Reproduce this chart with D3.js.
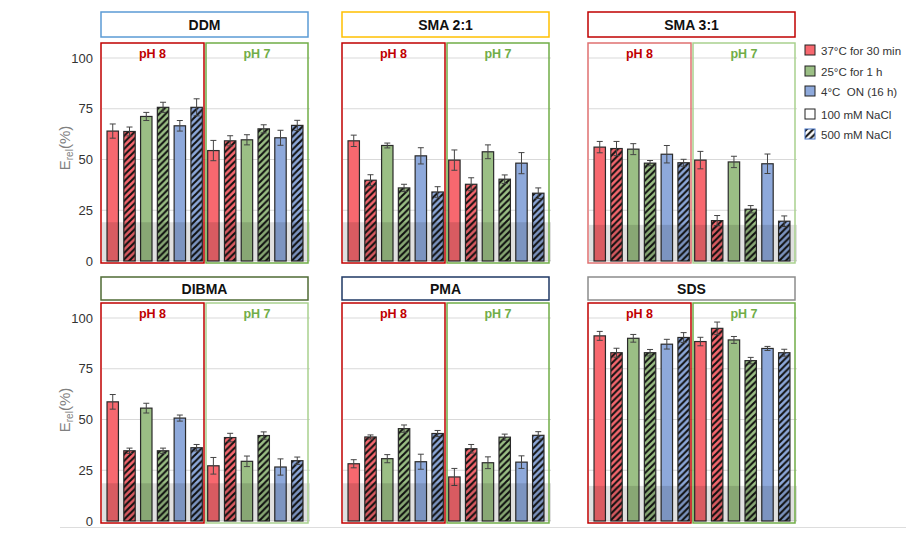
<!DOCTYPE html>
<html><head><meta charset="utf-8">
<script src="https://cdn.jsdelivr.net/npm/d3@7"></script>
<style>
body{margin:0;background:#fff;}
text{font-family:"Liberation Sans",Arial,sans-serif;white-space:pre;}
</style></head>
<body><svg id="c" width="906" height="533"></svg>
<script>
// ---------- data ----------
const panelNames = ["DDM","SMA 2:1","SMA 3:1","DIBMA","PMA","SDS"];
const phGroups = ["pH 8","pH 7"];
const conditions = ["37°C for 30 min","25°C for 1 h","4°C  ON (16 h)"];
const salts = ["100 mM NaCl","500 mM NaCl"];
const yTicks = [0,25,50,75,100];

// values: pH 8 (6 bars) then pH 7 (6 bars)
const ddmValues   = [64.0,63.8,71.2,75.7,66.6,75.7, 54.4,59.2,59.7,65.1,60.7,66.8];
const ddmErrors   = [3.5,2.2,2.0,2.5,2.6,4.2, 5.0,2.5,2.5,2.0,3.7,2.5];
const sma21Values = [59.2,39.8,56.9,36.0,51.8,34.0, 49.7,37.8,53.8,40.3,48.2,33.4];
const sma21Errors = [2.8,2.7,1.2,1.8,4.0,2.6, 5.0,3.2,3.4,2.1,5.2,2.6];
const sma31Values = [56.1,55.4,55.1,48.2,52.6,48.4, 49.7,19.9,48.8,25.5,47.9,19.6];
const sma31Errors = [2.8,3.5,2.7,1.3,4.3,1.7, 4.3,2.5,2.8,1.8,4.8,2.6];
const dibmaValues = [58.7,34.6,55.6,34.6,50.7,36.1, 27.2,41.1,29.4,42.1,26.6,29.7];
const dibmaErrors = [3.6,1.3,2.4,1.3,1.5,1.6, 4.1,2.1,2.6,1.8,4.0,1.8];
const pmaValues   = [28.2,41.4,30.7,45.5,29.2,43.1, 21.7,35.6,28.7,41.3,29.0,42.2];
const pmaErrors   = [2.0,1.0,2.0,1.8,3.7,1.5, 4.2,2.1,2.9,1.5,3.1,1.8];
const sdsValues   = [91.2,82.9,90.0,82.9,87.1,90.4, 88.4,94.9,89.2,79.0,85.0,82.9];
const sdsErrors   = [2.2,2.2,1.9,1.6,2.4,2.4, 2.1,3.1,1.7,1.6,1.0,1.7];
const bandLevels  = [19.1,19.1,17.8,18.6,18.6,17.3];

const panelValues = [ddmValues,sma21Values,sma31Values,dibmaValues,pmaValues,sdsValues];
const panelErrors = [ddmErrors,sma21Errors,sma31Errors,dibmaErrors,pmaErrors,sdsErrors];

// ---------- styles / layout ----------
const condColors = ["#F7686F","#9BBF85","#8EA9DB"];
const titleBorders = ["#5B9BD5","#FFC000","#C00000","#4F6B35","#1F3864","#8C8C8C"];
const ph8Box = ["#C00000","#C00000","#E07070","#C00000","#C00000","#C00000"];
const ph7Box = ["#70AD47","#70AD47","#A9D18E","#A9D18E","#70AD47","#70AD47"];
const ph8Text = "#C00000", ph7Text = "#70AD47";
const colLeft = [102,343,589];
const plotW = 206;
const rows = [
  {y0:261,y100:58,phTop:43,phBot:263,tTop:12,tBot:37,labelY:148},
  {y0:521,y100:318,phTop:303,phBot:523,tTop:277,tBot:300,labelY:410}
];

const svg = d3.select("#c");
const defs = svg.append("defs");
function makeHatch(id, bg){
  const p = defs.append("pattern").attr("id",id)
    .attr("patternUnits","userSpaceOnUse").attr("width",6.5).attr("height",6.5);
  p.append("rect").attr("width",6.5).attr("height",6.5).attr("fill",bg);
  p.append("path").attr("d","M-1,1 l2,-2 M0,6.5 l6.5,-6.5 M5.5,7.5 l2,-2")
    .attr("stroke","#111").attr("stroke-width",2.1);
}
condColors.forEach((c,i)=>makeHatch("hatch"+i,c));
makeHatch("hatchW","#fff");

const keys12 = d3.range(12);

panelNames.forEach((name,pi)=>{
  const row = rows[Math.floor(pi/3)];
  const L = colLeft[pi%3];
  const g = svg.append("g");
  const y = d3.scaleLinear().domain([0,100]).range([row.y0,row.y100]);
  const x = d3.scaleBand().domain(keys12).range([L,L+plotW]).paddingInner(0.32).paddingOuter(0.3);
  const vals = panelValues[pi], errs = panelErrors[pi];

  // gridlines
  g.selectAll(".grid").data(yTicks).join("line")
    .attr("x1",L).attr("x2",L+plotW+2)
    .attr("y1",d=>y(d)).attr("y2",d=>y(d))
    .attr("stroke","#D9D9D9").attr("stroke-width",1);

  // y axis labels on left column
  if(pi%3===0){
    const ax = d3.axisLeft(y).tickValues(yTicks).tickSize(0).tickPadding(0);
    const ag = g.append("g").attr("transform",`translate(${93},0)`).call(ax);
    ag.select(".domain").remove();
    ag.selectAll("text").attr("font-size",13).attr("fill","#333")
      .attr("font-family","Liberation Sans, Arial, sans-serif");
    const t = g.append("text").attr("transform",`translate(70,${row.labelY}) rotate(-90)`)
      .attr("text-anchor","middle").attr("fill","#808080").attr("font-size",15);
    t.append("tspan").text("E");
    t.append("tspan").attr("font-size",10).attr("dy",3).text("rel");
    t.append("tspan").attr("dy",-3).text("(%)");
  }

  // bars
  g.selectAll(".bar").data(keys12).join("rect")
    .attr("x",d=>x(d)).attr("width",x.bandwidth())
    .attr("y",d=>y(vals[d])).attr("height",d=>y(0)-y(vals[d]))
    .attr("fill",d=>{const ci=Math.floor((d%6)/2); return (d%2===1)?`url(#hatch${ci})`:condColors[ci];})
    .attr("stroke","#2a2a2a").attr("stroke-width",1.2);

  // error bars
  const eg = g.selectAll(".err").data(keys12).join("g");
  eg.append("line")
    .attr("x1",d=>x(d)+x.bandwidth()/2).attr("x2",d=>x(d)+x.bandwidth()/2)
    .attr("y1",d=>y(vals[d]+errs[d])).attr("y2",d=>y(vals[d]-errs[d]))
    .attr("stroke","#444").attr("stroke-width",1);
  [1,-1].forEach(s=>{
    eg.append("line")
      .attr("x1",d=>x(d)+x.bandwidth()/2-3).attr("x2",d=>x(d)+x.bandwidth()/2+3)
      .attr("y1",d=>y(vals[d]+s*errs[d])).attr("y2",d=>y(vals[d]+s*errs[d]))
      .attr("stroke","#444").attr("stroke-width",1);
  });

  // gray threshold band
  g.append("rect").attr("x",L).attr("width",plotW+2)
    .attr("y",y(bandLevels[pi])).attr("height",y(0)-y(bandLevels[pi]))
    .attr("fill","rgba(0,0,0,0.12)");

  // pH boxes
  const boxes = [
    {x1:L-1,x2:L+102,col:ph8Box[pi],tc:ph8Text,label:phGroups[0]},
    {x1:L+104,x2:L+206,col:ph7Box[pi],tc:ph7Text,label:phGroups[1]}
  ];
  boxes.forEach(b=>{
    g.append("rect").attr("x",b.x1).attr("y",row.phTop)
      .attr("width",b.x2-b.x1).attr("height",row.phBot-row.phTop)
      .attr("fill","none").attr("stroke",b.col).attr("stroke-width",1.5);
    g.append("text").attr("x",(b.x1+b.x2)/2).attr("y",row.phTop+15)
      .attr("text-anchor","middle").attr("font-weight","bold").attr("font-size",12.5)
      .attr("fill",b.tc).text(b.label);
  });

  // title box
  g.append("rect").attr("x",L-1).attr("y",row.tTop).attr("width",plotW+1)
    .attr("height",row.tBot-row.tTop).attr("fill","#fff")
    .attr("stroke",titleBorders[pi]).attr("stroke-width",1.5);
  g.append("text").attr("x",L-1+(plotW+1)/2).attr("y",(row.tTop+row.tBot)/2+5)
    .attr("text-anchor","middle").attr("font-weight","bold").attr("font-size",14)
    .attr("fill","#111").text(name);
});

// faint bottom line
svg.append("line").attr("x1",60).attr("x2",906).attr("y1",527.5).attr("y2",527.5)
  .attr("stroke","#DDD").attr("stroke-width",1);

// legend
const legendItems = [
  {label:conditions[0],fill:condColors[0]},
  {label:conditions[1],fill:condColors[1]},
  {label:conditions[2],fill:condColors[2]},
  {label:salts[0],fill:"#fff"},
  {label:salts[1],fill:"url(#hatchW)"}
];
const legendY = [50,71,91,114,134];
const lg = svg.append("g");
legendItems.forEach((it,i)=>{
  lg.append("rect").attr("x",805).attr("y",legendY[i]-5).attr("width",10).attr("height",10)
    .attr("fill",it.fill).attr("stroke",i===4?"#4472C4":"#222").attr("stroke-width",1);
  lg.append("text").attr("x",821).attr("y",legendY[i]+4.5).attr("font-size",11.5)
    .attr("fill","#333").text(it.label);
});
</script></body></html>
